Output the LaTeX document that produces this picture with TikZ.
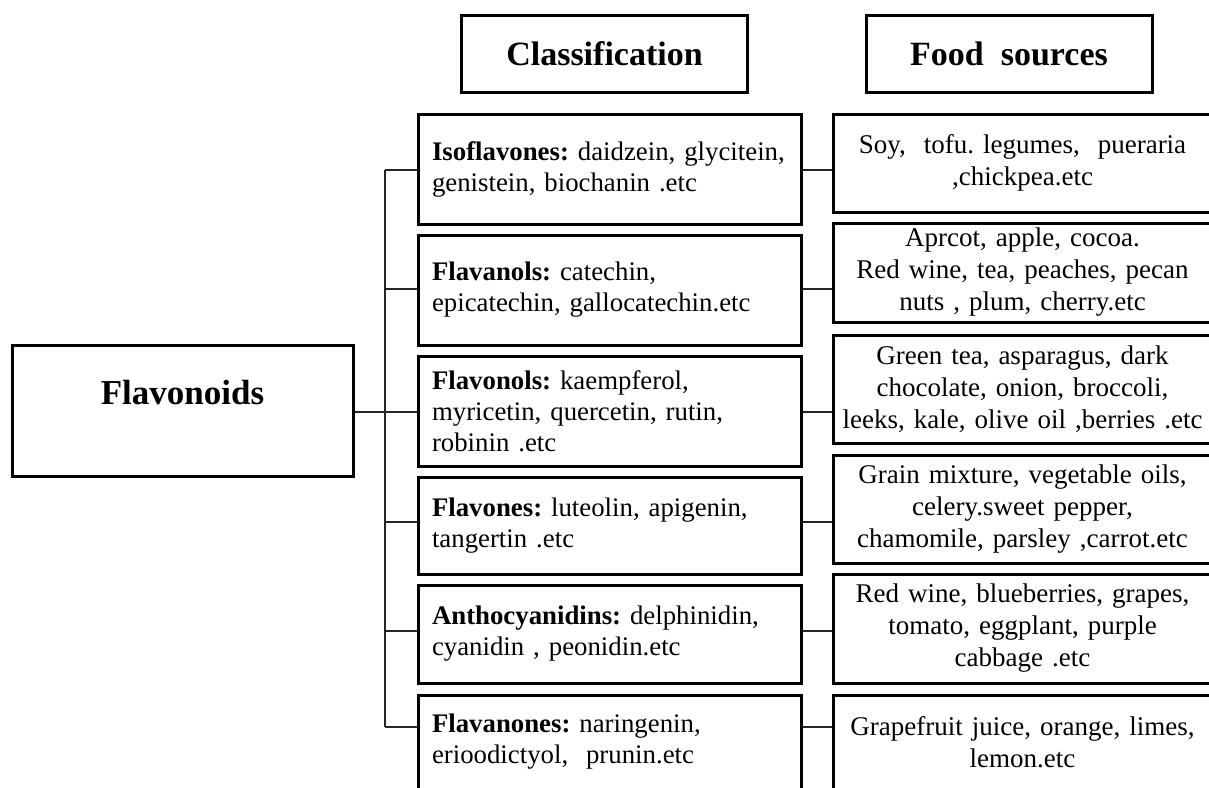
\documentclass[tikz,border=0pt]{standalone}
\usepackage{fontspec}
\setmainfont{Liberation Serif}
\usetikzlibrary{positioning}

\begin{document}
\frenchspacing
\begin{tikzpicture}[x=0.5pt,y=-0.5pt,
    box/.style={draw=black,line width=1.5pt,inner sep=0pt},
    head/.style={box,minimum width=143pt,minimum height=38.5pt,font=\fontsize{17}{20}\selectfont\bfseries},
    cls/.style={box,minimum width=191.5pt,text width=177.5pt,inner xsep=7pt,align=left,font=\fontsize{13.4}{15.5}\selectfont},
    src/.style={box,minimum width=189.5pt,text width=185pt,inner xsep=2.25pt,align=center,font=\fontsize{13.5}{16}\selectfont},
    link/.style={line width=0.9pt,draw=black!85}]
  \useasboundingbox (0,0) rectangle (1209,787);

  % headers
  \node[head] (hcls) at (604.5,53.5) {Classification};
  \node[head] (hsrc) at (1009,53.5) {Food\ \ sources};

  % root
  \node[box,minimum width=170.5pt,minimum height=65.5pt,text height=12pt,text depth=18.4pt,
        font=\fontsize{17.5}{20}\selectfont\bfseries] (flav) at (182.5,411) {Flavonoids};

  % classification boxes
  \foreach \i/\y/\h/\t in {
      1/169/55/{\textbf{Isoflavones:} daidzein, glycitein,\\genistein, biochanin .etc},
      2/290/55/{\textbf{Flavanols:} catechin,\\epicatechin, gallocatechin.etc},
      3/411/55/{\textbf{Flavonols:} kaempferol,\\myricetin, quercetin, rutin,\\robinin .etc},
      4/525.5/48.5/{\textbf{Flavones:} luteolin, apigenin,\\tangertin .etc},
      5/634/49/{\textbf{Anthocyanidins:} delphinidin,\\cyanidin , peonidin.etc},
      6/742/47/{\textbf{Flavanones:} naringenin,\\erioodictyol,\ \ prunin.etc}} {
    \node[cls,minimum height=\h pt] (c\i) at (609.5,\y) {\t};
  }

  % food source boxes
  \foreach \i/\y/\h/\t in {
      1/163/49/{Soy,\ \ tofu. legumes,\ \ pueraria\\,chickpea.etc},
      2/272.5/49.5/{Aprcot, apple, cocoa.\\Red wine, tea, peaches, pecan\\nuts , plum, cherry.etc},
      3/389/54/{Green tea, asparagus, dark\\chocolate, onion, broccoli,\\leeks, kale, olive oil ,berries .etc},
      4/509/54/{Grain mixture, vegetable oils,\\celery.sweet pepper,\\chamomile, parsley ,carrot.etc},
      5/628.5/54.5/{Red wine, blueberries, grapes,\\tomato, eggplant, purple\\cabbage .etc},
      6/742/47/{Grapefruit juice, orange, limes,\\lemon.etc}} {
    \node[src,minimum height=\h pt] (f\i) at (1022.5,\y) {\t};
  }

  % tree
  \foreach \i/\y in {1/170,2/289,3/412,4/522,5/631,6/727} {
    \coordinate (b\i) at (385,\y);
  }
  \draw[link] (flav.east |- b3) -- (b3);
  \draw[link] (b1) -- (b6);
  \foreach \i in {1,...,6} {
    \draw[link] (b\i) -- (b\i -| c\i.west);
    \draw[link] (b\i -| c\i.east) -- (b\i -| f\i.west);
  }
\end{tikzpicture}
\end{document}
